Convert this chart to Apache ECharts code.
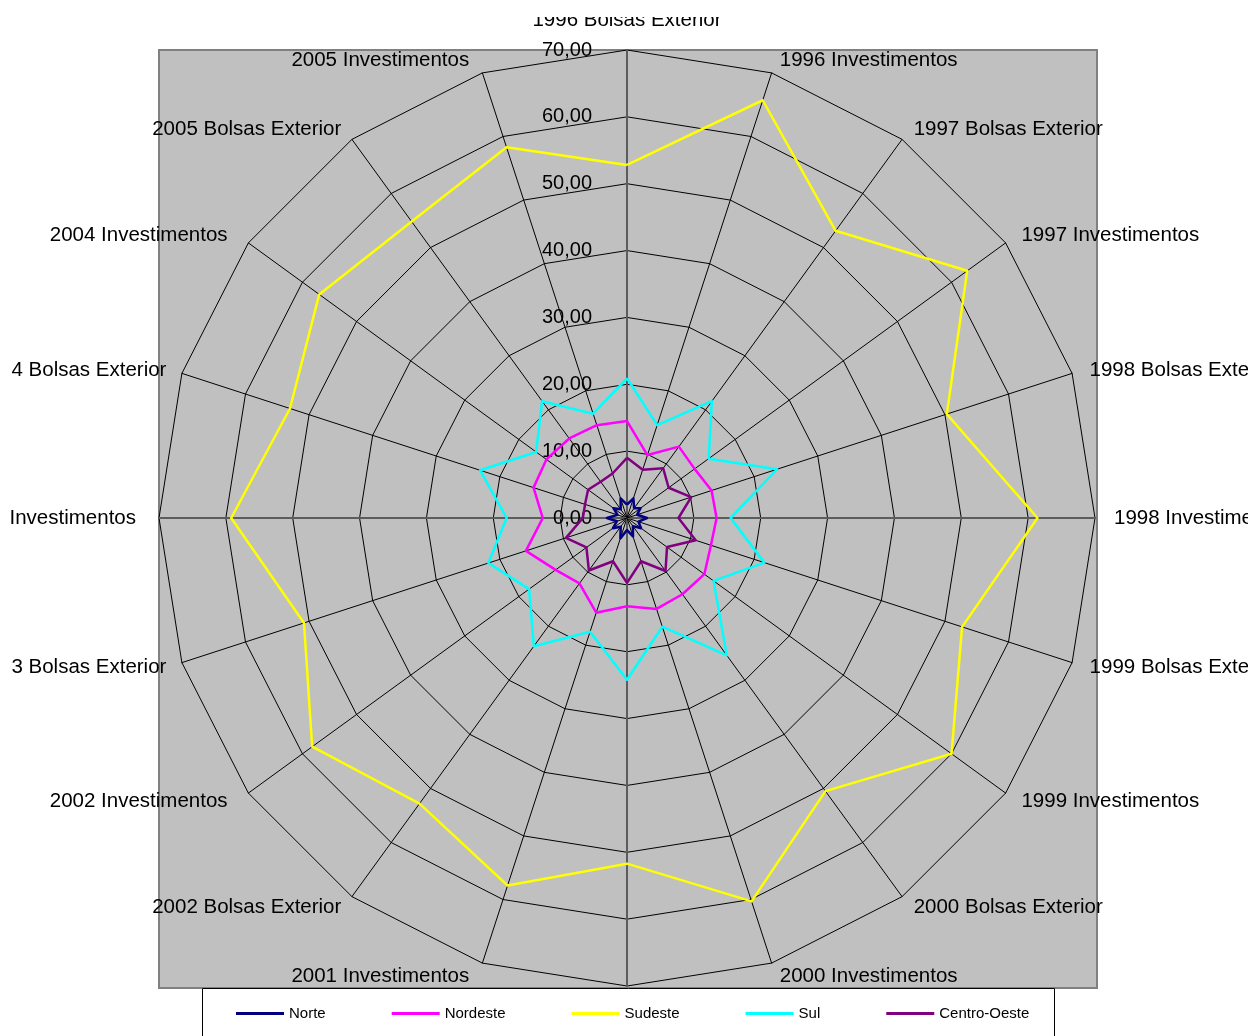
<!DOCTYPE html>
<html>
<head>
<meta charset="utf-8">
<title>Bolsas Exterior e Investimentos por Região</title>
<script src="https://cdn.jsdelivr.net/npm/echarts@6/dist/echarts.min.js"></script>
<style>
  html, body { margin: 0; padding: 0; background: #fff; }
  /* chart frame: clips the outer category names like the original sheet */
  #frame { position: absolute; left: 11px; top: 17px; width: 1237px; height: 1019px; overflow: hidden; }
  #chart { position: absolute; left: -11px; top: -17px; width: 1248px; height: 1036px; }
</style>
</head>
<body>
<div id="frame"><div id="chart"></div></div>
<script>
// Categories: one spoke per year and type, read clockwise from the top
const categories = [
  '1996 Bolsas Exterior', '1996 Investimentos',
  '1997 Bolsas Exterior', '1997 Investimentos',
  '1998 Bolsas Exterior', '1998 Investimentos',
  '1999 Bolsas Exterior', '1999 Investimentos',
  '2000 Bolsas Exterior', '2000 Investimentos',
  '2001 Bolsas Exterior', '2001 Investimentos',
  '2002 Bolsas Exterior', '2002 Investimentos',
  '2003 Bolsas Exterior', '2003 Investimentos',
  '2004 Bolsas Exterior', '2004 Investimentos',
  '2005 Bolsas Exterior', '2005 Investimentos'
];

// Percent share per region
const norte       = [2.0, 3.1, 1.8, 2.5, 1.6, 3.0, 1.8, 2.6, 1.5, 2.9, 1.8, 3.2, 1.6, 2.6, 1.6, 3.0, 1.5, 2.5, 1.6, 3.1];
const nordeste    = [14.5, 9.9, 13.2, 12.5, 13.3, 13.4, 13.2, 14.3, 14.1, 14.3, 13.2, 14.9, 12.1, 13.2, 15.9, 12.6, 14.7, 14.9, 14.7, 14.6];
const sudeste     = [52.8, 65.7, 53.1, 62.9, 50.3, 61.4, 52.7, 60.0, 50.5, 60.3, 51.7, 57.8, 52.8, 58.2, 50.8, 59.2, 53.0, 56.9, 54.8, 58.3];
const sul         = [20.9, 14.6, 21.6, 15.1, 23.6, 15.5, 21.6, 16.0, 25.4, 17.1, 24.2, 17.9, 23.7, 18.1, 21.8, 18.0, 23.1, 16.8, 21.6, 16.4];
const centroOeste = [9.0, 7.6, 9.2, 7.7, 10.1, 7.7, 10.8, 7.4, 9.8, 6.8, 9.7, 6.8, 9.7, 7.5, 9.6, 6.6, 6.6, 7.2, 6.7, 7.0];

// Value axis
const axisMin = 0;
const axisMax = 70;
const axisStep = 10;

const regions = [
  { name: 'Norte', values: norte, color: '#000080' },
  { name: 'Nordeste', values: nordeste, color: '#FF00FF' },
  { name: 'Sudeste', values: sudeste, color: '#FFFF00' },
  { name: 'Sul', values: sul, color: '#00FFFF' },
  { name: 'Centro-Oeste', values: centroOeste, color: '#800080' }
];

// Name placement per category: [gap, side padding]
const nameOffsets = [
  [19, 0], [13.6, 4], [12.9, 4], [13.4, 5], [11, 7],
  [19, 0], [14.2, 4], [13.4, 5], [12.9, 4], [13.6, 4],
  [8, 0], [13.6, 9], [12.9, 3], [13.4, 10], [14.2, 2],
  [23, 0], [11, 5], [13.4, 10], [12.9, 3], [13.6, 9]
];

const FONT = 'Liberation Sans, Arial, sans-serif';
const fmt = v => v.toFixed(2).replace('.', ',');

// ECharts lays indicators out counter-clockwise; walk the categories
// backwards after the first one so they run clockwise.
const n = categories.length;
const order = categories.map((_, j) => (n - j) % n);

const indicators = order.map(i => {
  const isMain = i % (n / 4) === 0;
  const [gap, pad] = nameOffsets[i];
  const rightSide = i > 0 && i < n / 2;
  const leftSide = i > n / 2;
  const ind = {
    name: categories[i],
    min: axisMin,
    max: axisMax,
    nameGap: gap,
    nameTextStyle: {
      padding: [0, leftSide ? pad : 0, 0, rightSide ? pad : 0]
    },
    axisLine: {
      show: true,
      lineStyle: isMain ? { color: '#5c5c5c', width: 2 } : { color: '#000', width: 1 }
    }
  };
  if (i === 0) {
    ind.axisLabel = {
      show: true,
      margin: 35,
      formatter: fmt,
      color: '#000',
      fontSize: 20,
      fontFamily: FONT
    };
  }
  return ind;
});

const chart = echarts.init(document.getElementById('chart'), null, { renderer: 'canvas' });

chart.setOption({
  backgroundColor: '#fff',
  animation: false,
  graphic: [
    {
      type: 'rect',
      z: -10,
      shape: { x: 159, y: 50, width: 938, height: 938 },
      style: { fill: '#C0C0C0', stroke: '#808080', lineWidth: 2 }
    },
    {
      type: 'rect',
      z: 5,
      shape: { x: 202.5, y: 988.5, width: 852, height: 80 },
      style: { fill: '#fff', stroke: '#000', lineWidth: 1 }
    }
  ],
  legend: {
    z: 10,
    left: 236,
    top: 1006,
    padding: 0,
    icon: 'rect',
    itemWidth: 48,
    itemHeight: 3,
    itemGap: 66,
    data: regions.map(r => r.name),
    textStyle: { color: '#000', fontSize: 15, fontFamily: FONT }
  },
  radar: {
    center: [627, 518],
    radius: 468,
    shape: 'polygon',
    startAngle: 90,
    splitNumber: (axisMax - axisMin) / axisStep,
    indicator: indicators,
    axisName: { color: '#000', fontSize: 20.5, fontFamily: FONT },
    axisLine: { show: true, lineStyle: { color: '#000', width: 1 } },
    axisTick: { show: false },
    axisLabel: { show: false },
    splitLine: { show: true, lineStyle: { color: '#000', width: 1 } },
    splitArea: { show: false }
  },
  series: [{
    type: 'radar',
    symbol: 'none',
    data: regions.map(r => ({
      name: r.name,
      value: order.map(i => r.values[i]),
      itemStyle: { color: r.color },
      lineStyle: { color: r.color, width: 2.5 }
    }))
  }]
});
</script>
</body>
</html>
